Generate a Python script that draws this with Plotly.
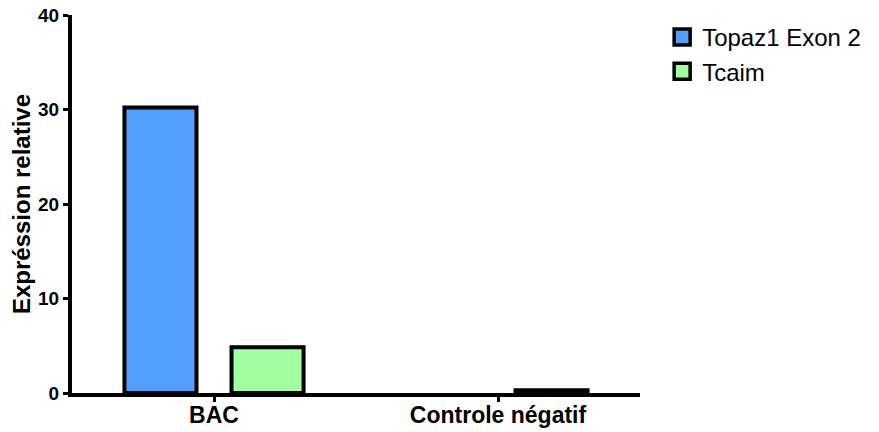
import plotly.graph_objects as go

categories = ["BAC", "Controle négatif"]
series_names = ["Topaz1 Exon 2", "Tcaim"]
topaz_values = [30.2, None]
tcaim_values = [4.85, 0.3]
colors = ["#539FFD", "#A2FFA0"]
y_ticks = [0, 10, 20, 30, 40]

FONT = "Liberation Sans, Arial, sans-serif"

fig = go.Figure()
for name, vals, col in zip(series_names, [topaz_values, tcaim_values], colors):
    fig.add_trace(go.Bar(
        x=categories, y=vals, name=name, showlegend=False,
        marker=dict(color=col, line=dict(color="black", width=4)),
    ))
# legend entries with larger square swatches
for name, col in zip(series_names, colors):
    fig.add_trace(go.Scatter(
        x=[None], y=[None], mode="markers", name=name,
        marker=dict(symbol="square", size=20, color=col, line=dict(color="black", width=3.5)),
    ))

fig.update_layout(
    width=879, height=432,
    margin=dict(l=64, r=247, t=7, b=47, autoexpand=False),
    plot_bgcolor="white", paper_bgcolor="white",
    barmode="group", bargap=0.246, bargroupgap=0.327,
    font=dict(family=FONT, color="black"),
    legend=dict(
        x=1.039, y=1.0, xanchor="left", yanchor="top",
        font=dict(size=24, family=FONT),
        itemsizing="trace",
    ),
    showlegend=True,
)
fig.update_xaxes(
    range=[-0.5, 1.5], showline=True, linecolor="black", linewidth=4,
    ticks="outside", ticklen=5, tickwidth=3, tickcolor="black",
    tickfont=dict(size=23, family=FONT, weight="bold"),
    ticklabelstandoff=-7, ticklabeloverflow="allow",
    showgrid=False, zeroline=False, automargin=False,
)
fig.update_yaxes(
    range=[0, 40], tickvals=y_ticks, showline=True, linecolor="black", linewidth=4,
    ticks="outside", ticklen=5, tickwidth=3, tickcolor="black",
    tickfont=dict(size=19, family=FONT, weight="bold"),
    ticklabeloverflow="allow",
    title=dict(text="Expréssion relative", standoff=12,
               font=dict(size=24, family=FONT, weight="bold")),
    showgrid=False, zeroline=False, automargin=False,
)
fig.write_html("out.html")
